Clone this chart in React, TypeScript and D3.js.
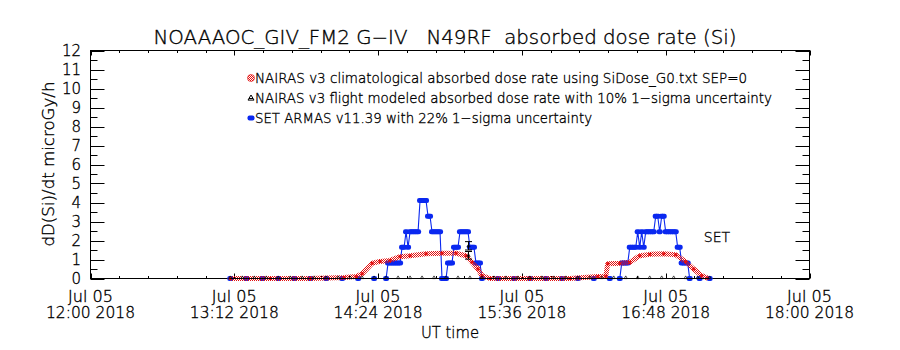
import React from "react";
import * as d3 from "d3";

// SET ARMAS v11.39 dose rate (microGy/h), UT times on 2018-07-05
const armasTimes = [
  "13:10", "13:18", "13:26", "13:34", "13:42", "13:50", "13:58", "14:06", "14:14", "14:22", "14:28",
  "14:29", "14:30", "14:31", "14:32", "14:33", "14:34", "14:35", "14:36", "14:37", "14:38",
  "14:39", "14:40", "14:41", "14:42", "14:43", "14:44", "14:45", "14:46", "14:47", "14:48",
  "14:49", "14:50", "14:51", "14:52", "14:53", "14:54", "14:55", "14:56", "14:57", "14:58",
  "14:59", "15:00", "15:01", "15:02", "15:03", "15:04", "15:05", "15:06", "15:07", "15:08",
  "15:09", "15:10", "15:11", "15:12", "15:13", "15:14", "15:15", "15:16",
  "15:24", "15:32", "15:40", "15:48", "15:56", "16:04", "16:12", "16:20", "16:25",
  "16:26", "16:27", "16:28", "16:29", "16:30", "16:31", "16:32", "16:33", "16:34", "16:35",
  "16:36", "16:37", "16:38", "16:39", "16:40", "16:41", "16:42", "16:43", "16:44", "16:45",
  "16:46", "16:47", "16:48", "16:49", "16:50", "16:51", "16:52", "16:53", "16:54", "16:55",
  "16:56", "16:57", "16:58", "16:59", "17:00", "17:05", "17:10",
];
const armasDose = [
  0, 0, 0, 0, 0, 0, 0, 0, 0, 0, 0,
  0.82, 0.82, 0.82, 0.82, 0.82, 0.82, 0.82, 1.64, 1.64, 2.46,
  1.64, 2.46, 2.46, 2.46, 2.46, 2.46, 4.1, 4.1, 4.1, 4.1,
  3.28, 3.28, 2.46, 2.46, 2.46, 2.46, 2.46, 0, 0, 0,
  0.82, 0.82, 0.82, 1.64, 1.64, 1.64, 2.46, 2.46, 2.46, 2.46,
  2.46, 1.64, 1.64, 1.64, 0.82, 0.82, 0.82, 0,
  0, 0, 0, 0, 0, 0, 0, 0, 0,
  0.82, 0.82, 0.82, 0.82, 1.64, 1.64, 1.64, 1.64, 2.46, 1.64,
  2.46, 1.64, 2.46, 2.46, 2.46, 2.46, 2.46, 3.28, 3.28, 2.46,
  3.28, 3.28, 2.46, 2.46, 2.46, 2.46, 2.46, 2.46, 1.64, 1.64,
  0.82, 0.82, 0.82, 0.82, 0, 0, 0,
];

// NAIRAS v3 climatological (SiDose_G0, SEP=0)
const climTimes = [
  "13:10", "13:30", "13:50", "14:07", "14:13", "14:16", "14:21", "14:25", "14:30", "14:35",
  "14:40", "14:48", "14:56", "15:03", "15:08", "15:11", "15:14", "15:16", "15:20", "15:40",
  "16:00", "16:14", "16:18", "16:19", "16:25", "16:30", "16:35", "16:40", "16:47", "16:53",
  "16:58", "17:02", "17:06", "17:09",
];
const climDose = [
  0, 0, 0, 0.05, 0.1, 0.25, 0.8, 0.9, 0.95, 1.15,
  1.2, 1.3, 1.33, 1.33, 1.2, 0.86, 0.5, 0.15, 0, 0,
  0, 0.1, 0.12, 0.78, 0.8, 0.85, 1.2, 1.27, 1.3, 1.25,
  0.88, 0.5, 0.15, 0.02,
];

// NAIRAS v3 flight modeled, zero along the track
const flightZeroTimes = [
  "13:10", "13:16", "13:22", "13:28", "13:34", "13:40", "13:46", "13:52", "13:58", "14:04",
  "14:10", "14:16", "14:22", "14:28", "14:34", "14:40", "14:46", "14:52", "14:58", "15:04",
  "15:10", "15:16", "15:22", "15:28", "15:34", "15:40", "15:46", "15:52", "15:58", "16:04",
  "16:10", "16:16", "16:22", "16:28", "16:34", "16:40", "16:46", "16:52", "16:58", "17:04",
  "17:10",
];
// flight modeled points with 1-sigma error bars
const flightTimes = ["15:09", "15:09"];
const flightDose = [1.72, 1.22];
const flightErr = [0.22, 0.2];

const yTicks = [0, 1, 2, 3, 4, 5, 6, 7, 8, 9, 10, 11, 12];
const xTickTimes = ["12:00", "13:12", "14:24", "15:36", "16:48", "18:00"];

const legendLabels = [
  "NAIRAS v3 climatological absorbed dose rate using SiDose_G0.txt SEP=0",
  "NAIRAS v3 flight modeled absorbed dose rate with 10% 1\u2212sigma uncertainty",
  "SET ARMAS v11.39 with 22% 1\u2212sigma uncertainty",
];
const legendWidths = [492, 517, 337];

const W = 900;
const H = 350;
const left = 90.5;
const right = 809.5;
const top = 50.5;
const bottom = 278.5;
const FONT = "'DejaVu Sans', 'Liberation Sans', sans-serif";
const FW = 200;
const RED = "#e41010";
const BLUE = "#0a28f0";

const toDate = (s: string) => new Date(`2018-07-05T${s}:00Z`);

export default function App() {
  const x = d3.scaleUtc().domain([toDate("12:00"), toDate("18:00")]).range([left, right]);
  const y = d3.scaleLinear().domain([0, 12]).range([bottom, top]);

  // minor ticks: 5 per 72-min major interval on x, half units on y
  const xMinorTicks = d3.range(0, 26).map((i) => left + ((right - left) * i) / 25);
  const yMinorTicks = d3.range(0, 25).map((i) => y(i / 2));

  const armas = armasTimes.map((t, i) => [x(toDate(t)), y(armasDose[i])] as [number, number]);
  const clim = climTimes.map((t, i) => [x(toDate(t)), y(climDose[i])] as [number, number]);
  const flightZero = flightZeroTimes.map((t) => [x(toDate(t)), y(0)] as [number, number]);
  const line = d3.line();

  const tri = (cx: number, cy: number, s: number) =>
    `M${cx},${cy - s} L${cx + s},${cy + s * 0.7} L${cx - s},${cy + s * 0.7} Z`;

  return (
    <svg width={W} height={H} style={{ position: "absolute", left: 0, top: 0, background: "#fff" }}>
      <defs>
        <pattern id="chk" width="2" height="2" patternUnits="userSpaceOnUse">
          <rect x="0" y="0" width="1" height="1" fill={RED} />
          <rect x="1" y="1" width="1" height="1" fill={RED} />
        </pattern>
      </defs>
      <rect width={W} height={H} fill="#fff" />

      <g fontFamily={FONT} fontWeight={FW} fill="#000" stroke="#000" strokeWidth={0.35}>
        {/* title */}
        <text x={445} y={44} fontSize={19} textAnchor="middle" textLength={583} lengthAdjust="spacingAndGlyphs">
          NOAAAOC_GIV_FM2 G{"\u2212"}IV{"\u00a0\u00a0\u00a0"}N49RF{"\u00a0\u00a0"}absorbed dose rate (Si)
        </text>

        {yTicks.map((v) => (
          <text key={"yl" + v} x={81} y={y(v) + 5.5} fontSize={15} textAnchor="end">
            {v}
          </text>
        ))}

        {xTickTimes.map((t) => {
          const xx = x(toDate(t));
          return (
            <g key={"xl" + t} fontSize={15} textAnchor="middle">
              <text x={xx} y={302} textLength={45} lengthAdjust="spacingAndGlyphs">Jul 05</text>
              <text x={xx} y={318} textLength={89} lengthAdjust="spacingAndGlyphs">{t} 2018</text>
            </g>
          );
        })}
        <text x={450} y={338} fontSize={16} textAnchor="middle" textLength={58} lengthAdjust="spacingAndGlyphs">
          UT time
        </text>
        <text
          transform="translate(54,164) rotate(-90)"
          fontSize={15}
          textAnchor="middle"
          textLength={165}
          lengthAdjust="spacingAndGlyphs"
        >
          dD(Si)/dt microGy/h
        </text>

        {legendLabels.map((s, i) => (
          <text
            key={"lg" + i}
            x={255}
            y={83 + i * 20}
            fontSize={14}
            textLength={legendWidths[i]}
            lengthAdjust="spacingAndGlyphs"
          >
            {s}
          </text>
        ))}

        <text x={717} y={242} fontSize={14} textAnchor="middle">
          SET
        </text>
      </g>

      {/* frame */}
      <rect x={left} y={top} width={right - left} height={bottom - top} fill="none" stroke="#000" strokeWidth={1} />

      {/* y ticks */}
      {yMinorTicks.map((v, i) => {
        const len = i % 2 === 0 ? 14 : 7;
        const yy = Math.round(v) + 0.5;
        return (
          <g key={"yt" + i} stroke="#000" strokeWidth={1}>
            <line x1={left} x2={left + len} y1={yy} y2={yy} />
            <line x1={right} x2={right - len} y1={yy} y2={yy} />
          </g>
        );
      })}

      {/* x ticks */}
      {xMinorTicks.map((v, i) => {
        const len = i % 5 === 0 ? 5 : 2.5;
        const xx = Math.round(v) + 0.5;
        return (
          <g key={"xt" + i} stroke="#000" strokeWidth={1}>
            <line x1={xx} x2={xx} y1={bottom} y2={bottom - len} />
            <line x1={xx} x2={xx} y1={top} y2={top + len} />
          </g>
        );
      })}

      {/* ARMAS */}
      <path d={line(armas) || ""} fill="none" stroke={BLUE} strokeWidth={1.1} />
      {armas.map(([px, py], i) => (
        <rect key={"a" + i} x={px - 3} y={py - 2.5} width={6} height={5} rx={2} fill={BLUE} />
      ))}

      {/* climatological */}
      <path d={line(clim) || ""} fill="none" stroke="url(#chk)" strokeWidth={5} strokeLinejoin="round" />
      {clim.map(([px, py], i) => (
        <rect key={"c" + i} x={px - 1.5} y={py - 1.5} width={3} height={3} fill={RED} />
      ))}

      {/* flight modeled */}
      <path d={line(flightZero) || ""} fill="none" stroke="#000" strokeWidth={1} />
      {flightZero.map(([px, py], i) => (
        <path key={"f" + i} d={tri(px, py - 1, 1.6)} fill="none" stroke="#000" strokeWidth={0.7} />
      ))}
      {flightTimes.map((t, i) => {
        const px = Math.round(x(toDate(t))) + 0.5;
        const v = flightDose[i];
        const y1 = y(v + flightErr[i]);
        const y2 = y(v - flightErr[i]);
        return (
          <g key={"fe" + i} stroke="#000" strokeWidth={1} fill="none">
            <line x1={px} x2={px} y1={y1} y2={y2} />
            <line x1={px - 3.5} x2={px + 3.5} y1={y1} y2={y1} />
            <line x1={px - 3.5} x2={px + 3.5} y1={y2} y2={y2} />
            <path d={tri(px, y(v), 1.6)} strokeWidth={0.7} />
          </g>
        );
      })}

      {/* legend symbols */}
      <circle cx={251} cy={78} r={3.5} fill="url(#chk)" stroke={RED} strokeWidth={0.6} />
      <path d={tri(251, 98, 3)} fill="none" stroke="#000" strokeWidth={1} />
      <line x1={249} x2={253} y1={98.5} y2={98.5} stroke="#000" />
      <rect x={247.5} y={115.5} width={7} height={5} rx={2} fill={BLUE} />
    </svg>
  );
}
